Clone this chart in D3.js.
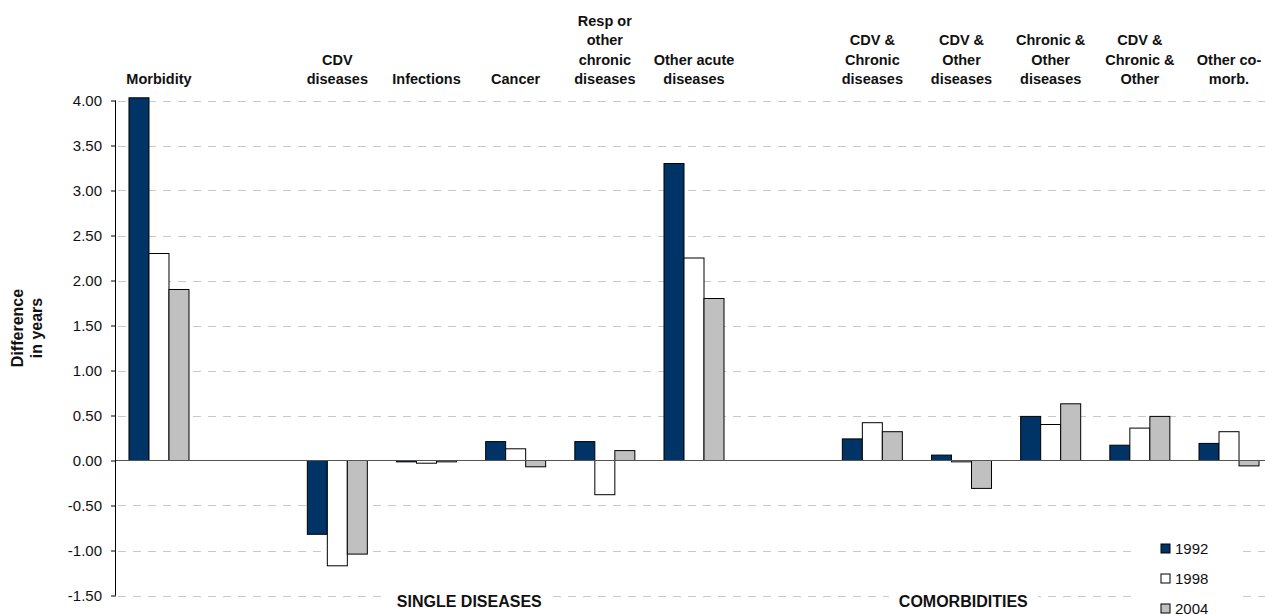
<!DOCTYPE html>
<html>
<head>
<meta charset="utf-8">
<script src="https://cdn.jsdelivr.net/npm/d3@7/dist/d3.min.js"></script>
<style>
  html, body { margin: 0; padding: 0; background: #fff; }
  svg { display: block; font-family: "Liberation Sans", Arial, sans-serif; }
</style>
</head>
<body>
<svg id="chart" width="1265" height="615"></svg>
<script>
// ---- data ----
const categories = [
  "Morbidity", "", "CDV\ndiseases", "Infections", "Cancer",
  "Resp or\nother\nchronic\ndiseases", "Other acute\ndiseases", "",
  "CDV &\nChronic\ndiseases", "CDV &\nOther\ndiseases", "Chronic &\nOther\ndiseases",
  "CDV &\nChronic &\nOther", "Other co-\nmorb."
];
const seriesNames = ["1992", "1998", "2004"];
const values1992 = [4.03, null, -0.82, -0.015, 0.21, 0.21, 3.30, null, 0.24, 0.06, 0.49, 0.17, 0.19];
const values1998 = [2.30, null, -1.17, -0.03, 0.13, -0.38, 2.25, null, 0.42, -0.015, 0.40, 0.36, 0.32];
const values2004 = [1.90, null, -1.04, -0.015, -0.07, 0.11, 1.80, null, 0.32, -0.31, 0.63, 0.49, -0.06];
const yTicks = [4.00, 3.50, 3.00, 2.50, 2.00, 1.50, 1.00, 0.50, 0.00, -0.50, -1.00, -1.50];
const groupLabels = ["SINGLE DISEASES", "COMORBIDITIES"];
const groupCenters = [3.48, 9.02]; // category-index positions of group labels
const yTitle = ["Difference", "in years"];

const seriesValues = [values1992, values1998, values2004];
const colors = ["#003366", "#ffffff", "#c0c0c0"];

// ---- layout ----
const svg = d3.select("#chart");
const plotLeft = 114.4, plotRight = 1273.6, plotTop = 100.5, plotBottom = 595.5;
const axisX = 116;

const x = d3.scaleBand()
  .domain(d3.range(categories.length))
  .range([plotLeft, plotRight])
  .paddingInner(0.327)
  .paddingOuter(0.1635);
const x1 = d3.scaleBand().domain(seriesNames).range([0, x.bandwidth()]);
const y = d3.scaleLinear().domain([-1.5, 4]).range([plotBottom, plotTop]);

// gridlines
svg.append("g").selectAll("line")
  .data(yTicks.filter(t => t !== 0))
  .join("line")
  .attr("x1", axisX + 2).attr("x2", 1265)
  .attr("y1", d => Math.round(y(d)) + 0.5).attr("y2", d => Math.round(y(d)) + 0.5)
  .attr("stroke", "#c8c8c8").attr("stroke-width", 1)
  .attr("stroke-dasharray", "8,7");

// bars
const barData = [];
categories.forEach((c, i) => {
  seriesNames.forEach((s, j) => {
    const v = seriesValues[j][i];
    if (v !== null && v !== undefined) barData.push({ i, s, j, v });
  });
});
svg.append("g").selectAll("rect")
  .data(barData)
  .join("rect")
  .attr("x", d => x(d.i) + x1(d.s))
  .attr("width", x1.bandwidth())
  .attr("y", d => Math.min(y(d.v), y(0)))
  .attr("height", d => Math.max(Math.abs(y(d.v) - y(0)), 1))
  .attr("fill", d => colors[d.j])
  .attr("stroke", "#000")
  .attr("stroke-width", 1);

// zero line
svg.append("line")
  .attr("x1", axisX).attr("x2", 1265)
  .attr("y1", y(0)).attr("y2", y(0))
  .attr("stroke", "#555").attr("stroke-width", 1.2);

// y axis
const yAxis = d3.axisLeft(y)
  .tickValues(yTicks)
  .tickFormat(d => d.toFixed(2))
  .tickSize(5)
  .tickPadding(9);
const gy = svg.append("g")
  .attr("transform", `translate(${axisX},0)`)
  .call(yAxis);
gy.select(".domain").attr("stroke", "#000").attr("d", `M-0.5,${plotTop}V${plotBottom}`);
gy.selectAll(".tick line").attr("stroke", "#000");
gy.selectAll(".tick text")
  .attr("font-size", 15)
  .attr("fill", "#111")
  .attr("font-family", "Liberation Sans, Arial, sans-serif");

// category labels
const lineH = 19.5, lastBaseline = 84;
categories.forEach((c, i) => {
  if (!c) return;
  const lines = c.split("\n");
  const t = svg.append("text")
    .attr("text-anchor", "middle")
    .attr("font-size", 14.5)
    .attr("font-weight", "bold")
    .attr("fill", "#111");
  lines.forEach((ln, k) => {
    t.append("tspan")
      .attr("x", x(i) + x.bandwidth() / 2)
      .attr("y", lastBaseline - (lines.length - 1 - k) * lineH)
      .text(ln);
  });
});

// group labels (with white background)
groupLabels.forEach((g, k) => {
  const cx = x(0) + x.bandwidth() / 2 + groupCenters[k] * x.step();
  const t = svg.append("text")
    .attr("x", cx).attr("y", 606.5)
    .attr("text-anchor", "middle")
    .attr("font-size", 16)
    .attr("font-weight", "bold")
    .attr("fill", "#111")
    .text(g);
  const bb = t.node().getBBox();
  svg.insert("rect", () => t.node())
    .attr("x", bb.x - 10).attr("y", 590).attr("width", bb.width + 20).attr("height", 25)
    .attr("fill", "#fff");
});

// y title
yTitle.forEach((ln, k) => {
  svg.append("text")
    .attr("transform", `translate(${k === 0 ? 23 : 42},328) rotate(-90)`)
    .attr("text-anchor", "middle")
    .attr("font-size", 16)
    .attr("font-weight", "bold")
    .attr("fill", "#111")
    .text(ln);
});

// legend
const lg = svg.append("g");
lg.append("rect").attr("x", 1136).attr("y", 532).attr("width", 100).attr("height", 83).attr("fill", "#fff");
seriesNames.forEach((s, j) => {
  const cy = 548.5 + j * 30;
  lg.append("rect")
    .attr("x", 1161).attr("y", cy - 4.5).attr("width", 9).attr("height", 9)
    .attr("fill", colors[j]).attr("stroke", "#000").attr("stroke-width", 1);
  lg.append("text")
    .attr("x", 1175).attr("y", cy + 5)
    .attr("font-size", 15)
    .attr("fill", "#111")
    .text(s);
});
</script>
</body>
</html>
